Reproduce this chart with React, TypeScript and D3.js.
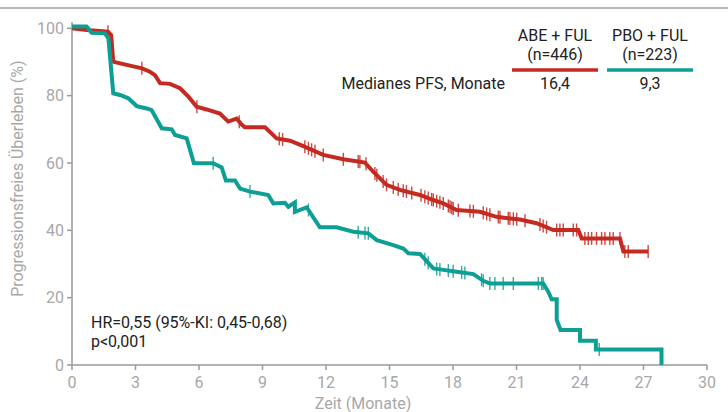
import React from "react";
import * as d3 from "d3";

// Kaplan-Meier curves: [months, % progression free]
const abeCurve: [number, number][] = [
  [0, 100], [0.7, 99.5], [1.7, 99], [1.85, 98], [1.95, 90.1], [2.27, 89.6],
  [3.31, 88.1], [3.68, 87.1], [3.92, 86.1], [4.16, 83.7], [4.63, 83.5],
  [5.1, 82.2], [5.5, 79.7], [5.89, 76.7], [6.36, 75.9], [6.99, 74.7],
  [7.38, 72.3], [7.78, 73.2], [8.0, 71.5], [8.17, 70.6], [9.12, 70.6],
  [9.67, 67.3], [10.3, 66.6], [10.93, 65.0], [11.87, 62.4], [12.82, 61.1],
  [13.84, 60.1], [14.23, 57.4], [14.86, 53.5], [15.49, 52.0], [16.44, 50.5],
  [17.07, 49.0], [17.54, 48.0], [18.17, 46.0], [19.27, 45.5], [20.06, 44.0],
  [21.16, 43.2], [21.95, 42.1], [22.74, 40.1], [23.92, 40.1], [24.08, 37.6],
  [25.89, 37.6], [26.05, 33.7], [27.22, 33.7],
];

const pboCurve: [number, number][] = [
  [0, 100.5], [0.69, 100.5], [0.93, 98.7], [1.56, 98.5], [1.72, 97],
  [1.95, 80.7], [2.27, 80.2], [2.66, 79.2], [3.06, 76.9], [3.53, 76.2],
  [3.76, 75.7], [4.24, 70.3], [4.71, 70.0], [4.87, 68.3], [5.42, 67.3],
  [5.76, 59.9], [6.67, 59.9], [7.07, 58.7], [7.27, 54.8], [7.7, 54.8],
  [7.94, 52.4], [8.41, 51.5], [9.27, 50.5], [9.51, 48.0], [10.06, 48.2],
  [10.22, 47.0], [10.53, 48.3], [10.53, 45.5], [11.09, 46.8], [11.71, 40.9],
  [12.5, 40.9], [13.29, 39.6], [14.0, 39.1], [14.4, 37.1], [15.18, 35.6],
  [15.65, 34.6], [15.89, 33.2], [16.44, 33.0], [17.07, 28.7], [17.38, 28.4],
  [18.17, 27.7], [18.96, 27.0], [19.43, 25.0], [19.75, 24.2], [22.26, 24.2],
  [22.5, 21.8], [22.66, 19.5], [22.9, 19.5], [22.9, 13.4], [23.08, 10.4],
  [24.0, 10.4], [24.0, 7.2], [24.75, 7.2], [24.75, 4.6], [27.85, 4.6],
  [27.85, 0],
];

// censored observations (months)
const abeCensored = [
  1.7, 3.3, 5.9, 7.9, 9.79, 9.95, 11.0, 11.17, 11.32, 11.48, 11.87, 12.82,
  13.52, 13.6, 13.89, 14.31, 14.4, 14.7, 14.86, 15.18, 15.41, 15.65, 15.8,
  16.05, 16.49, 16.67, 16.83, 16.99, 17.07, 17.23, 17.38, 17.54, 17.78,
  17.86, 17.94, 18.01, 18.25, 18.8, 18.96, 19.43, 19.59, 19.74, 20.14,
  20.22, 20.61, 20.69, 20.85, 21.01, 21.4, 22.11, 22.26, 22.42, 22.9, 23.05,
  23.21, 23.68, 23.84, 24.23, 24.39, 24.55, 24.78, 25.02, 25.18, 25.41,
  25.57, 25.89, 26.12, 26.28, 27.22,
];
const pboCensored = [
  6.67, 8.41, 11.17, 13.52, 13.84, 14.0, 16.67, 16.83, 17.23, 17.38, 17.78,
  18.01, 18.41, 18.56, 19.35, 19.43, 19.74, 19.98, 20.37, 20.85, 22.03,
  22.19, 22.26, 24.91,
];

const xTicks = [0, 3, 6, 9, 12, 15, 18, 21, 24, 27, 30];
const yTicks = [0, 20, 40, 60, 80, 100];

const groups = [
  { name: "ABE + FUL", n: "(n=446)", median: "16,4", color: "#c42a21" },
  { name: "PBO + FUL", n: "(n=223)", median: "9,3", color: "#0d9e94" },
];

const font = "Roboto, 'Noto Sans', sans-serif";
const axisGrey = "#9a9a9a";
const labelGrey = "#a8a8a8";

const valueAt = (curve: [number, number][], t: number) => {
  for (let i = 1; i < curve.length; i++) {
    const [x0, y0] = curve[i - 1];
    const [x1, y1] = curve[i];
    if (t >= x0 && t <= x1) {
      if (x1 === x0) return y1;
      return y0 + ((t - x0) / (x1 - x0)) * (y1 - y0);
    }
  }
  return curve[curve.length - 1][1];
};

export default function App() {
  const width = 728;
  const height = 412;
  const x = d3.scaleLinear().domain([0, 30]).range([72, 707]);
  const y = d3.scaleLinear().domain([0, 100]).range([365, 28.3]);

  const line = d3
    .line<[number, number]>()
    .x((d) => x(d[0]))
    .y((d) => y(d[1]));

  const series = [
    { curve: abeCurve, censored: abeCensored, color: groups[0].color },
    { curve: pboCurve, censored: pboCensored, color: groups[1].color },
  ];

  return (
    <svg
      width={width}
      height={height}
      style={{ position: "absolute", left: 0, top: 0 }}
      fontFamily={font}
    >
      <rect width={width} height={height} fill="white" />
      <line x1={0} x2={width} y1={8} y2={8} stroke="#a0a0a0" strokeWidth={1.5} />

      {/* axes */}
      <line x1={x(0)} x2={x(0)} y1={22} y2={y(0)} stroke={axisGrey} strokeWidth={1.5} />
      <line x1={x(0)} x2={x(30)} y1={y(0)} y2={y(0)} stroke={axisGrey} strokeWidth={1.5} />
      {yTicks.map((t) => (
        <g key={"y" + t}>
          <line x1={x(0) - 5} x2={x(0)} y1={y(t)} y2={y(t)} stroke={axisGrey} strokeWidth={1.5} />
          <text
            x={x(0) - 8}
            y={y(t)}
            dy="0.36em"
            textAnchor="end"
            fontSize={16}
            fill={labelGrey}
          >
            {t}
          </text>
        </g>
      ))}
      {xTicks.map((t) => (
        <g key={"x" + t}>
          <line x1={x(t)} x2={x(t)} y1={y(0)} y2={y(0) + 5} stroke={axisGrey} strokeWidth={1.5} />
          <text x={x(t)} y={388} textAnchor="middle" fontSize={16} fill={labelGrey}>
            {t}
          </text>
        </g>
      ))}
      <text x={363} y={409} textAnchor="middle" fontSize={16} fill={labelGrey}>
        Zeit (Monate)
      </text>
      <text
        transform={`translate(23, ${y(50) - 18}) rotate(-90)`}
        textAnchor="middle"
        fontSize={16}
        fill={labelGrey}
      >
        Progressionsfreies Überleben (%)
      </text>

      {/* curves */}
      {series.map((s, i) => (
        <g key={i}>
          <path
            d={line(s.curve) ?? ""}
            fill="none"
            stroke={s.color}
            strokeWidth={4}
            strokeLinejoin="miter"
          />
          {s.censored.map((t, j) => {
            const cy = y(valueAt(s.curve, t));
            return (
              <line
                key={j}
                x1={x(t)}
                x2={x(t)}
                y1={cy - 6.5}
                y2={cy + 6.5}
                stroke={s.color}
                strokeWidth={1.4}
                opacity={0.85}
              />
            );
          })}
        </g>
      ))}

      {/* legend table */}
      {groups.map((g, i) => {
        const cx = 555 + i * 95;
        return (
          <g key={g.name}>
            <text x={cx} y={41} textAnchor="middle" fontSize={16} fill="#222">
              {g.name}
            </text>
            <text x={cx} y={60} textAnchor="middle" fontSize={16} fill="#222">
              {g.n}
            </text>
            <line x1={cx - 43} x2={cx + 43} y1={70} y2={70} stroke={g.color} strokeWidth={3.5} />
            <text x={cx} y={89} textAnchor="middle" fontSize={16} fill="#222">
              {g.median}
            </text>
          </g>
        );
      })}
      <text x={505} y={89} textAnchor="end" fontSize={16} fill="#222">
        Medianes PFS, Monate
      </text>

      <text x={91} y={328} fontSize={16} fill="#222">
        HR=0,55 (95%-KI: 0,45-0,68)
      </text>
      <text x={91} y={347} fontSize={16} fill="#222">
        p&lt;0,001
      </text>
    </svg>
  );
}
